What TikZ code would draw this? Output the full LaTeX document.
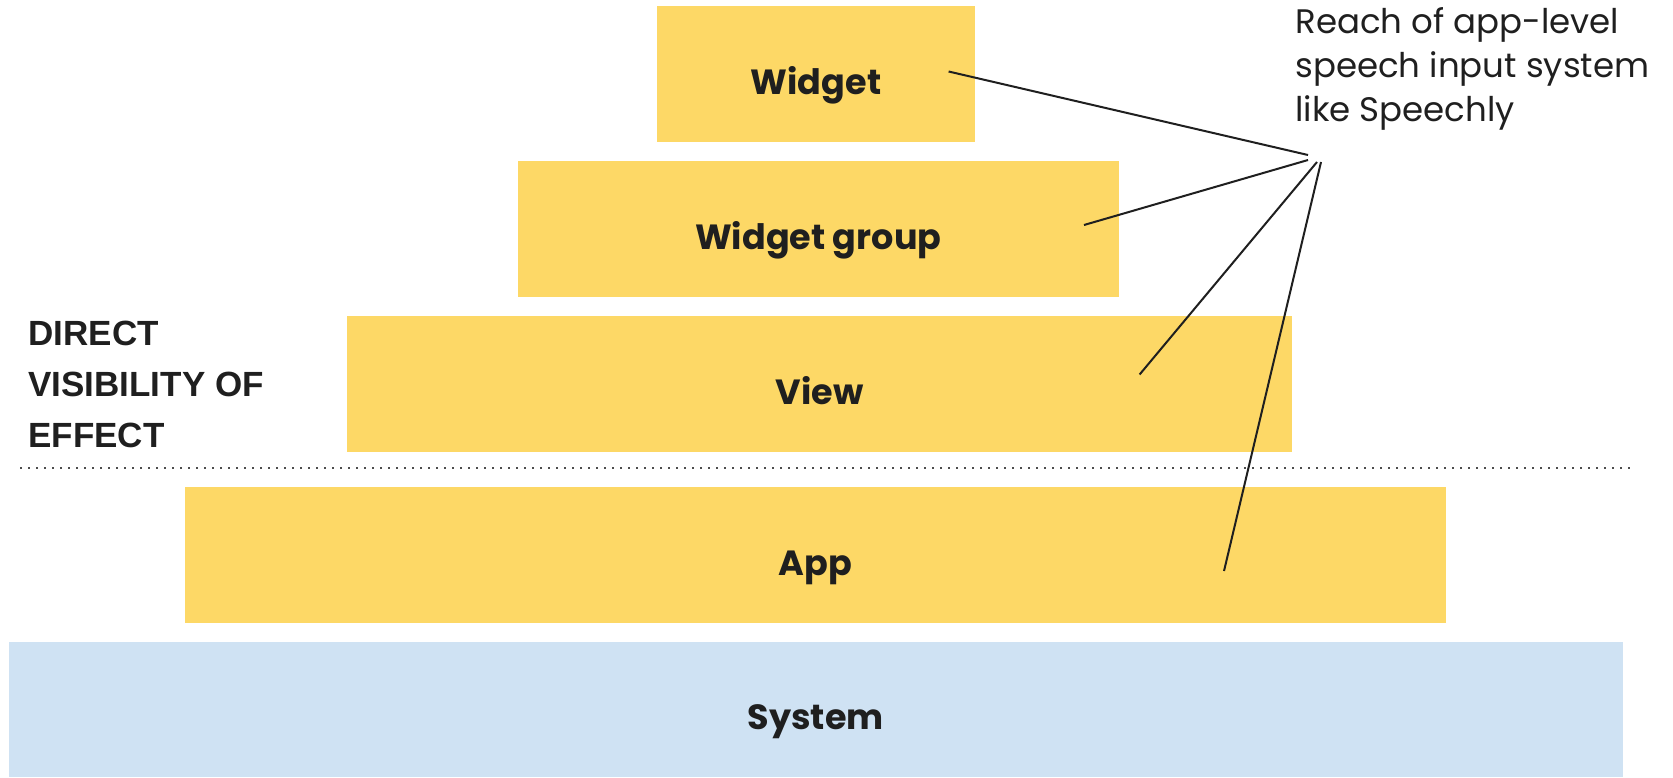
\documentclass[tikz,border=0pt]{standalone}
\usepackage{fontspec}
\setmainfont{Poppins}
\newfontfamily\capsfont{Liberation Sans}
\definecolor{boxyellow}{HTML}{FDD866}
\definecolor{boxblue}{HTML}{CFE2F3}
\definecolor{ink}{HTML}{1F1F1F}
\begin{document}
\begin{tikzpicture}[x=0.5pt,y=-0.5pt,
  layer/.style={fill=boxyellow, draw=none, inner sep=0pt, minimum height=68pt,
    text height=20pt, text depth=0pt, text=ink,
    font=\fontsize{17.5}{20}\selectfont\bfseries},
  syslayer/.style={layer, fill=boxblue, minimum height=67.5pt},
  reachline/.style={draw=ink, line width=1pt},
  dotline/.style={draw=ink!80, line width=1pt, dash pattern=on 1pt off 3pt},
  note/.style={inner sep=0pt, text=ink, align=left, anchor=base west,
    font=\fontsize{17}{22}\selectfont},
  sidenote/.style={inner sep=0pt, text=ink, align=left, anchor=base west,
    font=\capsfont\fontsize{17.5}{25.5}\selectfont\bfseries}]
\useasboundingbox (0,0) rectangle (1673,777);

\node[layer, minimum width=159pt] (widget) at (816,74) {Widget};
\node[layer, minimum width=300.75pt] (wgroup) at (818.25,229) {Widget group};
\node[layer, minimum width=472.5pt] (view) at (819.5,384) {View};
\node[layer, minimum width=630.7pt] (app) at (815.3,555) {App};
\node[syslayer, minimum width=807.25pt] (system) at (815.75,709.5) {System};

\node[sidenote] (direct) at (28,447.7) {DIRECT\\VISIBILITY OF\\EFFECT};
\node[note] (reach) at (1295,121) {Reach of app-level\\speech input system\\like Speechly};

\coordinate (dl) at (20,468);
\coordinate (dr) at (1630,468);
\draw[dotline] (dl) -- (dr);

\coordinate (s1) at (948.6,71.5);
\coordinate (s2) at (1084,225);
\coordinate (s3) at (1139.6,374.5);
\coordinate (s4) at (1224,571);
\coordinate (h1) at (1308,155);
\coordinate (h2) at (1308,160);
\coordinate (h3) at (1317,162);
\coordinate (h4) at (1321,162);
\draw[reachline] (s1) -- (h1);
\draw[reachline] (s2) -- (h2);
\draw[reachline] (s3) -- (h3);
\draw[reachline] (s4) -- (h4);
\end{tikzpicture}
\end{document}
